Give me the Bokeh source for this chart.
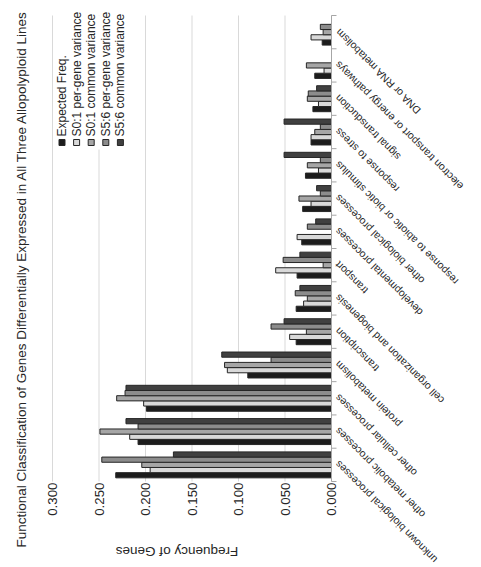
import math
import numpy as np
from bokeh.plotting import figure
from bokeh.models import Range1d, ColumnDataSource
from bokeh.core.properties import value
from bokeh.embed import file_html
from bokeh.resources import INLINE

# ---------------- data ----------------
title_text = "Functional Classification of Genes Differentially Expressed in All Three Allopolyploid Lines"
axis_title = "Frequency of Genes"

categories = [
    "unknown biological processes",
    "other metabolic processes",
    "other cellular processes",
    "protein metabolism",
    "transcription",
    "cell organization and biogenesis",
    "transport",
    "developmental processes",
    "other biological processes",
    "response to abiotic or biotic stimulus",
    "response to stress",
    "signal transduction",
    "electron transport or energy pathways",
    "DNA or RNA metabolism",
]

series_names = ["Expected Freq.", "S0:1 per-gene variance", "S0:1 common variance",
                "S5:6 per-gene variance", "S5:6 common variance"]

expected     = [0.232, 0.208, 0.199, 0.090, 0.038, 0.038, 0.037, 0.032, 0.031, 0.028, 0.022, 0.020, 0.018, 0.010]
s01_per_gene = [0.195, 0.217, 0.202, 0.112, 0.045, 0.030, 0.060, 0.037, 0.022, 0.014, 0.022, 0.014, 0.008, 0.022]
s01_common   = [0.204, 0.249, 0.231, 0.115, 0.027, 0.026, 0.009, 0.000, 0.035, 0.026, 0.018, 0.026, 0.027, 0.009]
s56_per_gene = [0.247, 0.208, 0.222, 0.065, 0.065, 0.039, 0.052, 0.026, 0.012, 0.012, 0.012, 0.025, 0.000, 0.012]
s56_common   = [0.170, 0.221, 0.221, 0.118, 0.051, 0.034, 0.034, 0.017, 0.016, 0.051, 0.051, 0.016, 0.000, 0.000]

freq_ticks = [0.0, 0.05, 0.10, 0.15, 0.20, 0.25, 0.30]
freq_tick_labels = ["0.000", "0.050", "0.100", "0.150", "0.200", "0.250", "0.300"]

# ---------------- layout / style ----------------
W, H = 481, 567
FONT = value("Arial")
colors = ["#1c1c1c", "#d9d9d9", "#a6a6a6", "#8c8c8c", "#404040"]
edge = "#262626"
text_col = "#262626"

n = len(categories)
# chart is drawn rotated: value axis runs right-to-left, categories bottom-to-top
ZERO_PX, PX_PER_UNIT = 331.0, 930.0          # screen x of value 0, pixels per unit
TOP_PX, BOT_PX = 15.0, 481.0                  # screen y of plot-area top / bottom
KY = (BOT_PX - TOP_PX) / n


def dx(px):
    return (ZERO_PX - px) / PX_PER_UNIT


def dy(py):
    return (n - 0.5) - (py - TOP_PX) / KY


p = figure(width=W, height=H, output_backend="svg", toolbar_location=None,
           x_range=Range1d(dx(0), dx(W)), y_range=Range1d(dy(H), dy(0)),
           x_axis_location=None, y_axis_location=None, min_border=0,
           outline_line_color=None, background_fill_color="white", border_fill_color="white")
p.title.visible = False
p.grid.visible = False
p.styles = {"outline": "1px solid #d9d9d9", "outline-offset": "-3px"}

# gridlines at the value ticks
tick_src = ColumnDataSource(dict(t=freq_ticks, lab=freq_tick_labels))
p.segment(x0="t", x1="t", y0=-0.5, y1=n - 0.5, source=tick_src,
          line_color="#d9d9d9", line_width=1)

# value tick labels (read upward)
p.text(x="t", y=dy(BOT_PX + 1), text="lab", source=tick_src, angle=math.pi / 2,
       text_align="right", text_baseline="middle", text_font=FONT,
       text_font_size="13.3px", text_color=text_col)

# bars
pos = np.arange(n, dtype=float)
series = [expected, s01_per_gene, s01_common, s56_per_gene, s56_common]
bar_h = 0.156
for k, (vals, col) in enumerate(zip(series, colors)):
    src = ColumnDataSource(dict(y=pos + (k - 2) * bar_h, v=vals))
    p.hbar(y="y", left=0, right="v", height=bar_h, source=src,
           fill_color=col, line_color=edge, line_width=1)

# category axis at zero with tick marks between categories
bounds = [i - 0.5 for i in range(n + 1)]
p.segment(x0=0, x1=0, y0=-0.5, y1=n - 0.5, line_color="#a6a6a6", line_width=1)
p.segment(x0=[0] * len(bounds), x1=[dx(ZERO_PX + 5)] * len(bounds), y0=bounds, y1=bounds,
          line_color="#a6a6a6", line_width=1)

# category labels (rotated, ending next to the axis)
cat_src = ColumnDataSource(dict(y=pos + 2.0 / KY, text=categories))
p.text(x=dx(ZERO_PX + 5), y="y", text="text", source=cat_src, angle=3 * math.pi / 4,
       text_align="right", text_baseline="middle", text_font=FONT,
       text_font_size="10.5px", text_color=text_col)

# legend (manual, vertical text)
m = len(series_names)
leg_x = [dx(61.5 + 14.6 * i) for i in range(m)]
p.quad(left=dx(54), right=dx(128), top=dy(15), bottom=dy(149),
       fill_color="white", line_color=None)
p.scatter(x=leg_x, y=[dy(142)] * m, marker="square", size=6,
          fill_color=colors, line_color=edge, line_width=1)
p.text(x=leg_x, y=[dy(136)] * m, text=series_names, angle=math.pi / 2,
       text_align="left", text_baseline="middle", text_font=FONT,
       text_font_size="12px", text_color=text_col)

# chart title (reads upward along the left side)
p.text(x=[dx(21)], y=[dy(547)], text=[title_text], angle=math.pi / 2,
       text_align="left", text_baseline="middle", text_font=FONT,
       text_font_size="13.5px", text_color=text_col)

# value-axis title (upside-down, under the tick labels)
p.text(x=[dx(176.5)], y=[dy(551)], text=[axis_title], angle=math.pi,
       text_align="center", text_baseline="middle", text_font=FONT,
       text_font_size="13.5px", text_color=text_col)

open("out.html", "w").write(file_html(p, INLINE))
